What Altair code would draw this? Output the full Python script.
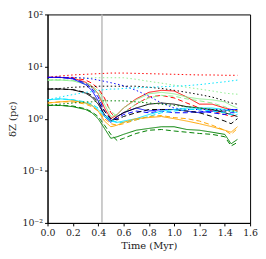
import altair as alt
import pandas as pd

T = [0.0, 0.1, 0.2, 0.3, 0.35, 0.4, 0.45, 0.5, 0.55, 0.6, 0.7, 0.8, 0.9, 1.0, 1.1, 1.2, 1.3, 1.4, 1.45, 1.5]

red_solid = [6.2, 6.2, 6.0, 5.0, 4.2, 3.0, 1.6, 1.0, 1.2, 1.6, 2.4, 3.2, 3.5, 3.4, 2.6, 1.9, 1.9, 1.6, 1.5, 1.4]
red_dashed = [6.2, 6.2, 6.1, 5.5, 4.8, 3.8, 2.5, 1.3, 1.0, 1.3, 1.9, 2.6, 2.8, 2.5, 2.0, 1.6, 1.4, 1.2, 1.1, 1.2]
red_dotted = [6.2, 6.6, 6.9, 7.1, 7.2, 7.3, 7.4, 7.5, 7.5, 7.5, 7.4, 7.3, 7.2, 7.1, 7.0, 6.9, 6.9, 6.8, 6.8, 6.8]
lg_solid = [5.5, 5.5, 5.3, 4.6, 4.0, 3.0, 1.9, 1.1, 1.2, 1.6, 2.3, 3.0, 3.2, 3.0, 2.6, 2.4, 2.3, 2.1, 1.8, 1.6]
lg_dashed = [5.5, 5.5, 5.4, 4.9, 4.3, 3.4, 2.3, 1.4, 1.1, 1.3, 1.9, 2.5, 2.8, 2.7, 2.4, 2.2, 2.0, 1.7, 1.5, 1.4]
lg_dotted = [5.5, 5.7, 5.9, 6.0, 6.1, 6.1, 6.1, 6.1, 6.1, 6.1, 5.7, 5.2, 4.8, 4.4, 4.0, 3.7, 3.4, 3.1, 3.0, 2.95]
blue_solid = [6.2, 6.2, 5.8, 4.5, 3.5, 2.2, 1.1, 0.85, 1.1, 1.3, 1.6, 1.4, 1.5, 1.5, 1.4, 1.3, 1.4, 1.4, 1.5, 1.5]
blue_dashed = [6.2, 6.2, 5.9, 4.8, 3.8, 2.6, 1.4, 0.95, 1.0, 1.2, 1.4, 1.3, 1.4, 1.3, 1.3, 1.4, 1.3, 1.2, 1.3, 1.3]
blue_dotted = [6.2, 6.2, 6.2, 6.0, 5.8, 5.5, 5.2, 4.9, 4.6, 4.3, 3.5, 2.7, 2.0, 1.6, 1.5, 1.5, 1.5, 1.5, 1.5, 1.5]
black_solid = [3.7, 3.7, 3.6, 3.1, 2.6, 1.9, 1.2, 0.9, 1.1, 1.3, 1.6, 1.9, 2.0, 1.9, 1.7, 1.6, 1.5, 1.3, 1.2, 1.1]
black_dashed = [3.7, 3.7, 3.6, 3.2, 2.8, 2.1, 1.4, 1.0, 0.95, 1.1, 1.3, 1.5, 1.5, 1.5, 1.4, 1.3, 1.1, 0.9, 0.8, 1.0]
black_dotted = [3.7, 3.8, 4.0, 4.1, 4.1, 4.2, 4.2, 4.2, 4.2, 4.2, 4.2, 4.0, 3.8, 3.5, 3.2, 2.9, 2.6, 2.2, 2.0, 1.9]
cyan_solid = [2.3, 2.4, 2.3, 2.0, 1.8, 1.5, 1.1, 0.9, 0.85, 0.9, 1.0, 1.2, 1.4, 1.5, 1.6, 1.6, 1.6, 1.5, 1.4, 1.3]
cyan_dashed = [2.3, 2.4, 2.3, 2.1, 1.9, 1.6, 1.2, 0.95, 0.85, 0.85, 0.95, 1.1, 1.3, 1.4, 1.5, 1.5, 1.4, 1.3, 1.2, 1.2]
cyan_dotted = [2.3, 2.6, 2.9, 3.2, 3.3, 3.5, 3.6, 3.7, 3.7, 3.8, 3.9, 4.0, 4.1, 4.2, 4.3, 4.5, 4.8, 5.1, 5.3, 5.5]
orange_solid = [2.0, 2.1, 2.2, 2.0, 1.8, 1.4, 0.9, 0.7, 0.75, 0.85, 1.0, 1.05, 1.1, 1.0, 0.9, 0.8, 0.7, 0.6, 0.55, 0.7]
orange_dashed = [2.0, 2.1, 2.1, 1.9, 1.7, 1.4, 1.0, 0.8, 0.75, 0.8, 0.95, 1.1, 1.15, 1.05, 1.0, 0.9, 0.75, 0.6, 0.5, 0.65]
green_solid = [1.8, 1.8, 1.7, 1.5, 1.3, 1.0, 0.65, 0.42, 0.45, 0.5, 0.6, 0.65, 0.7, 0.7, 0.62, 0.6, 0.55, 0.5, 0.33, 0.4]
green_dashed = [1.8, 1.8, 1.75, 1.55, 1.35, 1.1, 0.75, 0.5, 0.38, 0.42, 0.52, 0.6, 0.62, 0.58, 0.55, 0.52, 0.5, 0.45, 0.3, 0.35]
green_dotted = [1.8, 1.9, 2.0, 2.1, 2.1, 2.2, 2.2, 2.2, 2.2, 2.2, 2.1, 2.0, 1.9, 1.8, 1.7, 1.6, 1.5, 1.4, 1.4, 1.4]

event_time = [0.43]
x_ticks = [0.0, 0.2, 0.4, 0.6, 0.8, 1.0, 1.2, 1.4, 1.6]
y_ticks = [0.01, 0.1, 1, 10, 100]

series = [
    ("red", "solid", red_solid), ("red", "dashed", red_dashed), ("red", "dotted", red_dotted),
    ("lightgreen", "solid", lg_solid), ("lightgreen", "dashed", lg_dashed), ("lightgreen", "dotted", lg_dotted),
    ("blue", "solid", blue_solid), ("blue", "dashed", blue_dashed), ("blue", "dotted", blue_dotted),
    ("black", "solid", black_solid), ("black", "dashed", black_dashed), ("black", "dotted", black_dotted),
    ("cyan", "solid", cyan_solid), ("cyan", "dashed", cyan_dashed), ("cyan", "dotted", cyan_dotted),
    ("orange", "solid", orange_solid), ("orange", "dashed", orange_dashed),
    ("green", "solid", green_solid), ("green", "dashed", green_dashed), ("green", "dotted", green_dotted),
]

rows = []
for i, (c, s, vals) in enumerate(series):
    for t, v in zip(T, vals):
        rows.append({"t": t, "z": v, "color": c, "style": s, "sid": f"{c}_{s}", "order": i})
df = pd.DataFrame(rows)

colors = ["red", "lightgreen", "blue", "black", "cyan", "orange", "green"]
color_range = ["#ff0000", "#90ee90", "#0000ff", "#000000", "#00e5ff", "#ffa500", "#008000"]

font = "DejaVu Serif"

x_scale = alt.Scale(domain=[0, 1.6], nice=False, zero=False)
y_scale = alt.Scale(type="log", domain=[0.01, 100], nice=False)

label_expr = ("datum.value == 100 ? '10²' : datum.value == 10 ? '10¹' : datum.value == 1 ? '10⁰' : "
              "datum.value == 0.1 ? '10⁻¹' : '10⁻²'")

x_axis = alt.Axis(values=x_ticks, format=".1f", title="Time (Myr)", grid=False, tickSize=3,
                  labelPadding=2, titlePadding=3, labelOverlap=False, labelFlush=False,
                  labelFont=font, titleFont=font, labelFontSize=9.5, titleFontSize=10,
                  titleFontWeight="normal")
y_axis = alt.Axis(values=y_ticks, labelExpr=label_expr, title="δZ (pc)", grid=False, tickSize=3,
                  labelPadding=2, titlePadding=4, labelOverlap=False, labelFlush=False,
                  labelFont=font, titleFont=font, labelFontSize=9.5, titleFontSize=10,
                  titleFontWeight="normal")

vline = alt.Chart(pd.DataFrame({"t": event_time})).mark_rule(
    color="#bbbbbb", strokeWidth=1.5
).encode(x=alt.X("t:Q", scale=x_scale, axis=x_axis))

lines = alt.Chart(df).mark_line(strokeWidth=1.0, clip=True).encode(
    x=alt.X("t:Q", scale=x_scale, axis=x_axis),
    y=alt.Y("z:Q", scale=y_scale, axis=y_axis),
    color=alt.Color("color:N", scale=alt.Scale(domain=colors, range=color_range), legend=None),
    strokeDash=alt.StrokeDash("style:N", scale=alt.Scale(domain=["solid", "dashed", "dotted"],
                                                         range=[[1, 0], [5, 3], [1.5, 2.5]]),
                              legend=None),
    detail="sid:N",
    order="order:Q",
)

chart = alt.layer(vline, lines).properties(
    width=205, height=211,
    autosize=alt.AutoSizeParams(type="none"),
    padding={"left": 40, "top": 5, "right": 8, "bottom": 35},
).configure(font=font).configure_view(stroke="black", strokeWidth=1).configure_axis(
    labelColor="#222", titleColor="#222", domainColor="black", tickColor="black",
)

chart.save("out.html", embed_options={"renderer": "svg", "actions": False})
